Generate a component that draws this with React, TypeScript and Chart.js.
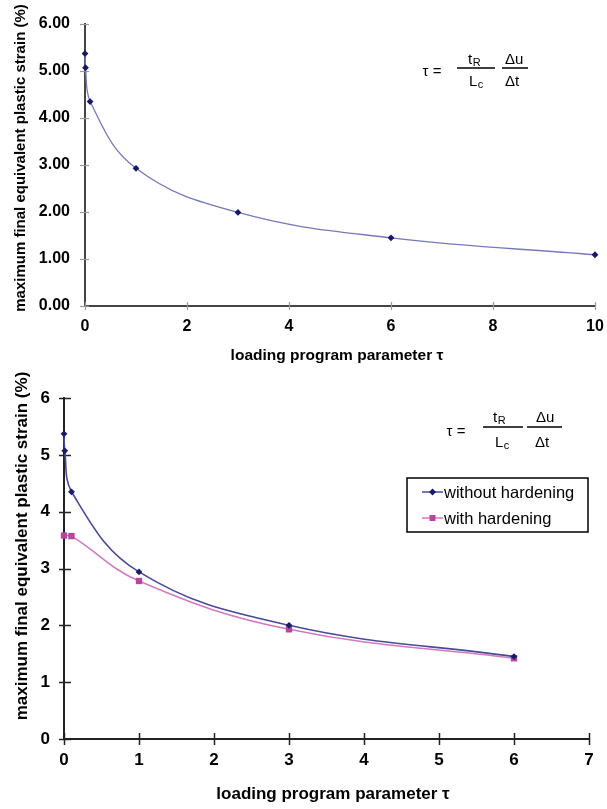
import React, { useEffect, useRef } from "react";
import { Chart, registerables } from "chart.js";
Chart.register(...registerables);

// ---- Top chart data ----
const topTau = [0, 0.01, 0.1, 1, 3, 6, 10];
const topStrain = [5.37, 5.07, 4.35, 2.93, 1.99, 1.45, 1.09];
const topXTicks = [0, 2, 4, 6, 8, 10];
const topYTicks = [0, 1, 2, 3, 4, 5, 6];

// ---- Bottom chart data ----
const tauWithout = [0, 0.01, 0.1, 1, 3, 6];
const strainWithout = [5.37, 5.07, 4.35, 2.94, 2.0, 1.45];
const tauWith = [0, 0.1, 1, 3, 6];
const strainWith = [3.58, 3.57, 2.78, 1.93, 1.42];
const bottomXTicks = [0, 1, 2, 3, 4, 5, 6, 7];
const bottomYTicks = [0, 1, 2, 3, 4, 5, 6];
const seriesLabels = ["without hardening", "with hardening"];

const xTitle = "loading program parameter τ";
const yTitle = "maximum final equivalent plastic strain (%)";

const FONT = "'Liberation Sans', Arial, sans-serif";

function crossTicksPlugin(color: string, width: number, xOut: number, xIn: number, yOut: number, yIn: number) {
  return {
    id: "crossTicks",
    beforeDatasetsDraw(chart: any) {
      const ctx = chart.ctx;
      const { x, y } = chart.scales;
      const ca = chart.chartArea;
      ctx.save();
      ctx.strokeStyle = color;
      ctx.lineWidth = width;
      x.ticks.forEach((t: any) => {
        const px = Math.round(x.getPixelForValue(t.value)) + 0.5;
        ctx.beginPath();
        ctx.moveTo(px, ca.bottom - xIn);
        ctx.lineTo(px, ca.bottom + xOut);
        ctx.stroke();
      });
      y.ticks.forEach((t: any) => {
        const py = Math.round(y.getPixelForValue(t.value)) + 0.5;
        ctx.beginPath();
        ctx.moveTo(ca.left - yOut, py);
        ctx.lineTo(ca.left + yIn, py);
        ctx.stroke();
      });
      ctx.restore();
    },
  };
}

function titlesPlugin(p: { xX: number; xY: number; xSize: number; yX: number; yY: number; ySize: number }) {
  return {
    id: "axisTitles",
    afterDraw(chart: any) {
      const ctx = chart.ctx;
      ctx.save();
      ctx.fillStyle = "#000";
      ctx.textAlign = "center";
      ctx.textBaseline = "middle";
      ctx.font = `bold ${p.xSize}px ${FONT}`;
      ctx.fillText(xTitle, p.xX, p.xY);
      ctx.translate(p.yX, p.yY);
      ctx.rotate(-Math.PI / 2);
      ctx.font = `bold ${p.ySize}px ${FONT}`;
      ctx.fillText(yTitle, 0, 0);
      ctx.restore();
    },
  };
}

type FormulaPos = {
  tauX: number; tauY: number;
  l1: [number, number]; l2: [number, number]; lineY: number;
  tX: number; numY: number; lX: number; denY: number;
  duX: number; dtX: number; size: number;
};

function formulaPlugin(p: FormulaPos) {
  return {
    id: "formula",
    afterDraw(chart: any) {
      const ctx = chart.ctx;
      ctx.save();
      ctx.fillStyle = "#000";
      ctx.strokeStyle = "#000";
      ctx.lineWidth = 1.3;
      ctx.textBaseline = "middle";
      ctx.font = `${p.size}px ${FONT}`;
      ctx.textAlign = "center";
      ctx.fillText("τ =", p.tauX, p.tauY);
      ctx.beginPath();
      ctx.moveTo(p.l1[0], p.lineY); ctx.lineTo(p.l1[1], p.lineY);
      ctx.moveTo(p.l2[0], p.lineY); ctx.lineTo(p.l2[1], p.lineY);
      ctx.stroke();
      ctx.textAlign = "left";
      ctx.fillText("t", p.tX, p.numY);
      const tw = ctx.measureText("t").width;
      ctx.fillText("L", p.lX, p.denY);
      const lw = ctx.measureText("L").width;
      ctx.fillText("Δu", p.duX, p.numY);
      ctx.fillText("Δt", p.dtX, p.denY);
      ctx.font = `${Math.round(p.size * 0.7)}px ${FONT}`;
      ctx.fillText("R", p.tX + tw + 0.5, p.numY + 3);
      ctx.fillText("c", p.lX + lw + 0.5, p.denY + 3);
      ctx.restore();
    },
  };
}

function legendPlugin(box: { x0: number; x1: number; y0: number; y1: number; rows: number[]; lineX: [number, number]; textX: number; size: number }) {
  return {
    id: "boxLegend",
    afterDraw(chart: any) {
      const ctx = chart.ctx;
      ctx.save();
      ctx.fillStyle = "#fff";
      ctx.fillRect(box.x0, box.y0, box.x1 - box.x0, box.y1 - box.y0);
      ctx.strokeStyle = "#000";
      ctx.lineWidth = 1.5;
      ctx.strokeRect(box.x0, box.y0, box.x1 - box.x0, box.y1 - box.y0);
      chart.data.datasets.forEach((ds: any, i: number) => {
        const y = box.rows[i];
        ctx.strokeStyle = ds.borderColor;
        ctx.lineWidth = 1.5;
        ctx.beginPath();
        ctx.moveTo(box.lineX[0], y);
        ctx.lineTo(box.lineX[1], y);
        ctx.stroke();
        const cx = (box.lineX[0] + box.lineX[1]) / 2;
        ctx.fillStyle = ds.pointBackgroundColor;
        if (ds.pointStyle === "rect") {
          ctx.fillRect(cx - 3, y - 3, 6, 6);
        } else {
          ctx.beginPath();
          ctx.moveTo(cx, y - 3.5); ctx.lineTo(cx + 3.5, y); ctx.lineTo(cx, y + 3.5); ctx.lineTo(cx - 3.5, y);
          ctx.closePath(); ctx.fill();
        }
        ctx.fillStyle = "#000";
        ctx.font = `${box.size}px ${FONT}`;
        ctx.textAlign = "left";
        ctx.textBaseline = "middle";
        ctx.fillText(ds.label, box.textX, y + 1);
      });
      ctx.restore();
    },
  };
}

function TopChart() {
  const ref = useRef<HTMLCanvasElement>(null);
  useEffect(() => {
    const chart = new Chart(ref.current!, {
      type: "line",
      data: {
        datasets: [
          {
            label: "strain",
            data: topTau.map((t, i) => ({ x: t, y: topStrain[i] })),
            borderColor: "#7878b8",
            borderWidth: 1.3,
            pointStyle: "rectRot",
            pointRadius: 3.4,
            pointBackgroundColor: "#161668",
            pointBorderColor: "#161668",
            pointBorderWidth: 0,
            tension: 0.4,
            clip: false,
            fill: false,
          },
        ],
      },
      options: {
        animation: false,
        responsive: false,
        devicePixelRatio: 1,
        layout: { padding: { left: 0, right: 12, top: 24, bottom: 0 } },
        plugins: { legend: { display: false }, tooltip: { enabled: false } },
        scales: {
          x: {
            type: "linear",
            min: 0,
            max: 10,
            afterBuildTicks: (s: any) => { s.ticks = topXTicks.map((v) => ({ value: v })); },
            afterFit: (s: any) => { s.height = 64; },
            grid: { display: false },
            border: { display: true, color: "#444", width: 2 },
            ticks: { padding: 3, color: "#000", font: { family: FONT, size: 16, weight: "bold" } },
          },
          y: {
            type: "linear",
            min: 0,
            max: 6,
            afterBuildTicks: (s: any) => { s.ticks = topYTicks.map((v) => ({ value: v })); },
            afterFit: (s: any) => { s.width = 85; },
            grid: { display: false },
            border: { display: true, color: "#444", width: 2 },
            ticks: { padding: 7, color: "#000", font: { family: FONT, size: 16, weight: "bold" }, callback: (v: any) => Number(v).toFixed(2) },
          },
        },
      } as any,
      plugins: [
        crossTicksPlugin("#9a9a9a", 1.2, 4, 4, 5, 4),
        titlesPlugin({ xX: 337, xY: 356, xSize: 15.5, yX: 21, yY: 158, ySize: 15 }),
        formulaPlugin({
          tauX: 432, tauY: 72, l1: [457, 495], l2: [502, 528], lineY: 68,
          tX: 468, numY: 60, lX: 469, denY: 82, duX: 505, dtX: 505, size: 15,
        }),
      ],
    });
    return () => chart.destroy();
  }, []);
  return <canvas ref={ref} width={607} height={370} style={{ position: "absolute", left: 0, top: 0, width: 607, height: 370 }} />;
}

function BottomChart() {
  const ref = useRef<HTMLCanvasElement>(null);
  useEffect(() => {
    const chart = new Chart(ref.current!, {
      type: "line",
      data: {
        datasets: [
          {
            label: seriesLabels[0],
            data: tauWithout.map((t, i) => ({ x: t, y: strainWithout[i] })),
            borderColor: "#4a4a98",
            borderWidth: 1.6,
            pointStyle: "rectRot",
            pointRadius: 3.4,
            pointBackgroundColor: "#1a1a6a",
            pointBorderColor: "#1a1a6a",
            pointBorderWidth: 0,
            tension: 0.4,
            clip: false,
            fill: false,
          },
          {
            label: seriesLabels[1],
            data: tauWith.map((t, i) => ({ x: t, y: strainWith[i] })),
            borderColor: "#d27ac0",
            borderWidth: 1.6,
            pointStyle: "rect",
            pointRadius: 4.5,
            pointBackgroundColor: "#b8479c",
            pointBorderColor: "#b8479c",
            pointBorderWidth: 0,
            tension: 0.4,
            clip: false,
            fill: false,
          },
        ],
      },
      options: {
        animation: false,
        responsive: false,
        devicePixelRatio: 1,
        layout: { padding: { left: 0, right: 18, top: 28, bottom: 0 } },
        plugins: { legend: { display: false }, tooltip: { enabled: false } },
        scales: {
          x: {
            type: "linear",
            min: 0,
            max: 7,
            afterBuildTicks: (s: any) => { s.ticks = bottomXTicks.map((v) => ({ value: v })); },
            afterFit: (s: any) => { s.height = 70; },
            grid: { display: false },
            border: { display: true, color: "#222", width: 2 },
            ticks: { padding: 3.5, color: "#000", font: { family: FONT, size: 17, weight: "bold" } },
          },
          y: {
            type: "linear",
            min: 0,
            max: 6,
            afterBuildTicks: (s: any) => { s.ticks = bottomYTicks.map((v) => ({ value: v })); },
            afterFit: (s: any) => { s.width = 64; },
            grid: { display: false },
            border: { display: true, color: "#222", width: 2 },
            ticks: { padding: 6, color: "#000", font: { family: FONT, size: 17, weight: "bold" } },
          },
        },
      } as any,
      plugins: [
        crossTicksPlugin("#222", 1.5, 6, 6, 5, 7),
        titlesPlugin({ xX: 333, xY: 424, xSize: 17, yX: 22, yY: 176, ySize: 17 }),
        formulaPlugin({
          tauX: 456, tauY: 62, l1: [483, 523], l2: [527, 562], lineY: 57,
          tX: 493, numY: 48, lX: 495, denY: 73, duX: 536, dtX: 535, size: 15,
        }),
        legendPlugin({ x0: 407, x1: 588, y0: 108, y1: 162, rows: [122, 148], lineX: [422, 443], textX: 444, size: 16.5 }),
      ],
    });
    return () => chart.destroy();
  }, []);
  return <canvas ref={ref} width={607} height={439} style={{ position: "absolute", left: 0, top: 370, width: 607, height: 439 }} />;
}

export default function App() {
  return (
    <div style={{ position: "absolute", left: 0, top: 0, width: 607, height: 809, background: "#fff", overflow: "hidden" }}>
      <TopChart />
      <BottomChart />
    </div>
  );
}
